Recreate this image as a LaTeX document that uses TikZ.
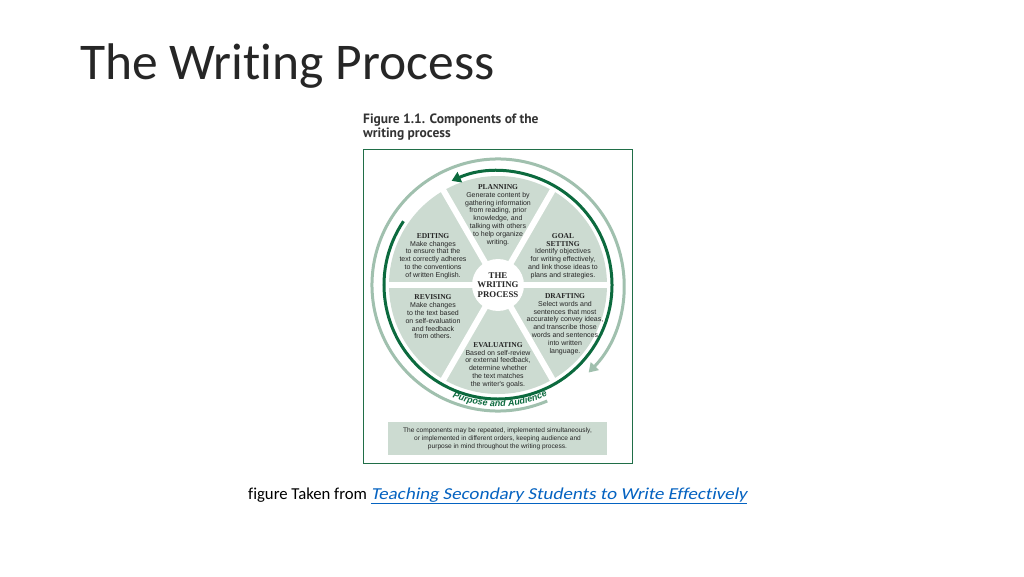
\documentclass[tikz,border=0pt]{standalone}
\usepackage{fontspec}
\setmainfont{Carlito}[Ligatures=NoCommon]
\newfontfamily\linkfont{Carlito}[FakeSlant=0.2, FakeStretch=1.14, Ligatures=NoCommon]
\newfontfamily\bodyfont{Liberation Sans}
\newfontfamily\headfont{Liberation Serif}
\newfontfamily\capfont{PT Sans}
\usepackage{xcolor}
\usetikzlibrary{arrows.meta}
\usetikzlibrary{positioning, decorations.text}
\definecolor{ringgreen}{RGB}{12,106,62}
\definecolor{palering}{RGB}{160,192,174}
\definecolor{sectorfill}{RGB}{204,219,209}
\definecolor{boxedge}{RGB}{32,110,72}
\definecolor{linkblue}{RGB}{5,99,193}
\tikzstyle{sector} = [align=center, inner sep=0, text=black!85, font=\bodyfont\fontsize{7}{7.8}\selectfont]
\tikzstyle{ring} = [line width=3pt]
\newcommand{\hd}[1]{{\headfont\bfseries\fontsize{7.5}{7.8}\selectfont #1}}

\begin{document}
\begin{tikzpicture}[x=1pt, y=1pt]
            \fill[white] (0,0) rectangle (1024,576);
            \useasboundingbox (0,0) rectangle (1024,576);

            % Title and caption
            \node[anchor=base west, inner sep=0, text=black!85, font=\fontsize{51.5}{60}\selectfont] (title) at (80, 496) {The Writing Process};
            \node[anchor=base west, inner sep=0, align=left, text=black!80, font=\capfont\bfseries\fontsize{13.5}{14}\selectfont] (figcap) at (363, 438) {Figure 1.1. Components of the\\writing process};
            \node[draw=boxedge, line width=1pt, minimum width=269pt, minimum height=313pt, inner sep=0] (figbox) at (497.5, 269.5) {};

            % Wheel
            \coordinate (c) at (498, 291);
            \fill[sectorfill] (c) circle (109);
            \foreach \a in {0,60,...,300}
                \draw[white, line width=6pt] (c) -- ++(\a:112);
            \node[circle, fill=white, minimum size=52pt, inner sep=0, align=center, text=black!85, font=\headfont\bfseries\fontsize{8.8}{9.8}\selectfont] (hub) at (c) {THE\\WRITING\\PROCESS};

            % Nodes
            \node[sector] (planning) at (498, 361) {\hd{PLANNING}\\Generate content by\\gathering information\\from reading, prior\\knowledge, and\\talking with others\\to help organize\\writing.};
            \node[sector] (goal) at (563, 320) {\hd{GOAL}\\\hd{SETTING}\\Identify objectives\\for writing effectively,\\and link those ideas to\\plans and strategies.};
            \node[sector] (drafting) at (565, 252) {\hd{DRAFTING}\\Select words and\\sentences that most\\accurately convey ideas,\\and transcribe those\\words and sentences\\into written\\language.};
            \node[sector] (evaluating) at (498, 211) {\hd{EVALUATING}\\Based on self-review\\or external feedback,\\determine whether\\the text matches\\the writer's goals.};
            \node[sector] (revising) at (433, 259) {\hd{REVISING}\\Make changes\\to the text based\\on self-evaluation\\and feedback\\from others.};
            \node[sector] (editing) at (433, 320) {\hd{EDITING}\\Make changes\\to ensure that the\\text correctly adheres\\to the conventions\\of written English.};

            % Rings
            \draw[ring, ringgreen, -{Triangle[length=9pt, width=11pt]}] ([shift={(146:114)}]c) arc[start angle=146, end angle=474, radius=114];
            \draw[ring, palering, -{Triangle[length=9pt, width=11pt]}] ([shift={(293:126)}]c) arc[start angle=293, end angle=-44, radius=126];
            \path[decorate, decoration={text along path, text align=center, text color=ringgreen,
                text={|\bodyfont\bfseries\itshape\fontsize{9}{9}\selectfont|Purpose and Audience}}]
                ([shift={(-114:121.5)}]c) arc[start angle=-114, end angle=-64, radius=121.5];

            % Note
            \node[fill=sectorfill, minimum width=219pt, minimum height=33pt, inner sep=0, align=center, text=black!85, font=\bodyfont\fontsize{6.6}{8}\selectfont] (note) at (497.5, 137.5) {The components may be repeated, implemented simultaneously,\\or implemented in different orders, keeping audience and\\purpose in mind throughout the writing process.};

            % Source
            \node[anchor=base west, inner sep=0, font=\fontsize{16.7}{20}\selectfont] (source) at (248, 77) {figure Taken from \textcolor{linkblue}{\underline{\linkfont Teaching Secondary Students to Write Effectively}}};
        \end{tikzpicture}
\end{document}
